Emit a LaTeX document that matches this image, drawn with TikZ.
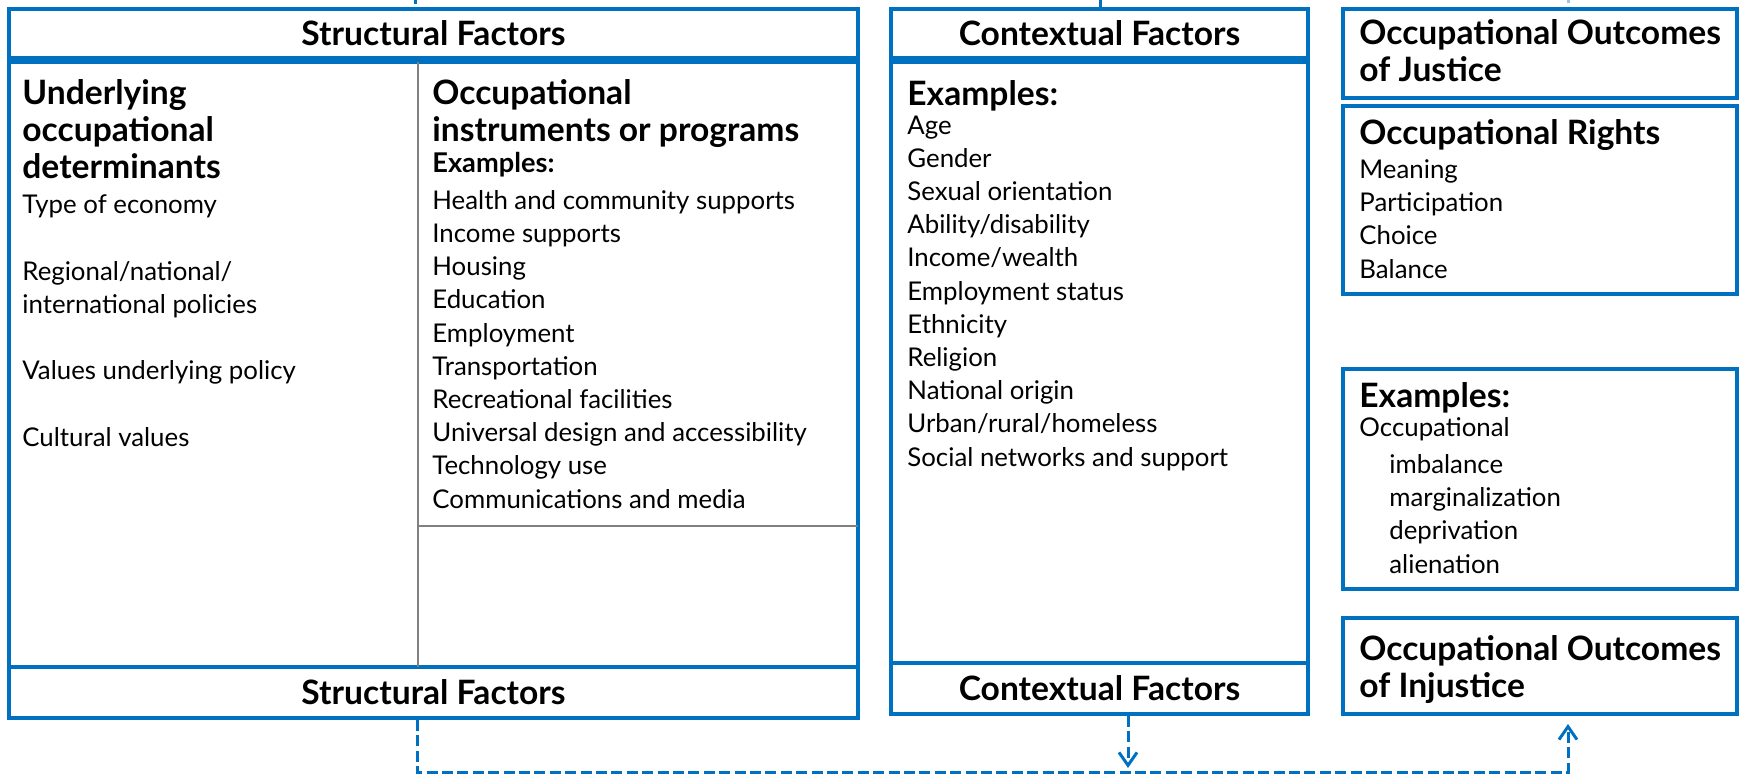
\documentclass[tikz,border=0pt]{standalone}
\usepackage{fontspec}
\setmainfont{Lato}
\usepackage{xcolor}
\usepackage{tikz}
\usetikzlibrary{arrows.meta,positioning}

\definecolor{ojblue}{RGB}{0,112,192}

\tikzset{
  box/.style={draw=ojblue, line width=2pt, inner sep=0pt},
  head/.style={font=\bfseries\fontsize{16.8}{18.5}\selectfont, align=left, inner sep=0pt},
  body/.style={font=\fontsize{12.9}{16.6}\selectfont, align=left, inner sep=0pt},
  link/.style={ojblue, line width=1.5pt, dash pattern=on 5.5pt off 2.2pt},
  divider/.style={draw=gray, line width=0.8pt}
}
\newcommand{\exlabel}{{\bfseries\fontsize{13.6}{16.6}\selectfont Examples:}}

\begin{document}
\begin{tikzpicture}[x=0.5pt, y=-0.5pt]
  \useasboundingbox (0,0) rectangle (1742,776);

  % Structural factors
  \node[box, head, minimum width=424.5pt, minimum height=24.5pt] (sftop) at (433.5,33.5) {Structural Factors};
  \node[box, minimum width=424.5pt, minimum height=302.5pt] (sfmain) at (433.5,364.5) {};
  \node[box, head, minimum width=424.5pt, minimum height=25.5pt] (sfbot) at (433.5,692.5) {Structural Factors};
  \draw[divider] (418,62) -- (418,667);
  \draw[divider] (418,526) -- (858,526);

  % Underlying determinants
  \node[head, anchor=base west] (dethead) at (22,178) {Underlying\\occupational\\determinants};
  \node[body, anchor=base west] (detlist) at (22,446)
    {Type of economy\\[16.6pt]Regional/national/\\international policies\\[16.6pt]Values underlying policy\\[16.6pt]Cultural values};

  % Instruments or programs
  \node[head, anchor=base west] (insthead) at (432,141) {Occupational\\instruments or programs};
  \node[body, anchor=base west] (instlist) at (432,508)
    {\exlabel\\[1.9pt]Health and community supports\\Income supports\\Housing\\Education\\Employment\\Transportation\\Recreational facilities\\Universal design and accessibility\\Technology use\\Communications and media};

  % Contextual factors
  \node[box, head, minimum width=208.5pt, minimum height=24.5pt] (cftop) at (1099.5,33.5) {Contextual Factors};
  \node[box, minimum width=208.5pt, minimum height=300.5pt] (cfmain) at (1099.5,362.5) {};
  \node[box, head, minimum width=208.5pt, minimum height=25.5pt] (cfbot) at (1099.5,688.5) {Contextual Factors};
  \node[head, anchor=base west] (cfhead) at (907,105.5) {Examples:};
  \node[body, anchor=base west] (cflist) at (907,466)
    {Age\\Gender\\Sexual orientation\\Ability/disability\\Income/wealth\\Employment status\\Ethnicity\\Religion\\National origin\\Urban/rural/homeless\\Social networks and support};

  % Outcomes
  \node[box, minimum width=197pt, minimum height=44.5pt] (justice) at (1540,53.5) {};
  \node[head, anchor=base west] (justhead) at (1359,82) {Occupational Outcomes\\of Justice};
  \node[box, minimum width=197pt, minimum height=94pt] (rights) at (1540,200) {};
  \node[head, anchor=base west] (righthead) at (1359,144) {Occupational Rights};
  \node[body, anchor=base west] (rightlist) at (1359,278) {Meaning\\Participation\\Choice\\Balance};
  \node[box, minimum width=197pt, minimum height=110pt] (exbox) at (1540,479) {};
  \node[head, anchor=base west] (exhead) at (1359,407) {Examples:};
  \node[body, anchor=base west] (exlist) at (1359,573)
    {Occupational\\[1.9pt]\hspace*{15pt}imbalance\\\hspace*{15pt}marginalization\\\hspace*{15pt}deprivation\\\hspace*{15pt}alienation};
  \node[box, minimum width=197pt, minimum height=48pt] (injustice) at (1540,666) {};
  \node[head, anchor=base west] (injhead) at (1359,697) {Occupational Outcomes\\of Injustice};

  % Links
  \coordinate (turnL) at (417,772);
  \coordinate (turnR) at (1568,772);
  \coordinate (drop) at (1128,772);
  \draw[link, -{Straight Barb[length=6.5pt,width=9pt]}, shorten >=4pt]
    (sfbot.south -| turnL) -- (turnL) -- (turnR) -- (injustice.south -| turnR);
  \draw[link, -{Straight Barb[length=6.5pt,width=9pt]}, shorten >=2pt]
    (cfbot.south -| drop) -- (drop);

  % Cut stubs at the top edge
  \coordinate (stubA) at (415,0);
  \coordinate (stubB) at (1100,0);
  \coordinate (stubC) at (1568,0);
  \draw[ojblue, line width=1.5pt] (stubA) -- ++(0,4);
  \draw[ojblue, line width=1.5pt] (stubB) -- (cftop.north -| stubB);
  \draw[ojblue!40, line width=1.5pt] (stubC) -- ++(0,3);
\end{tikzpicture}
\end{document}
